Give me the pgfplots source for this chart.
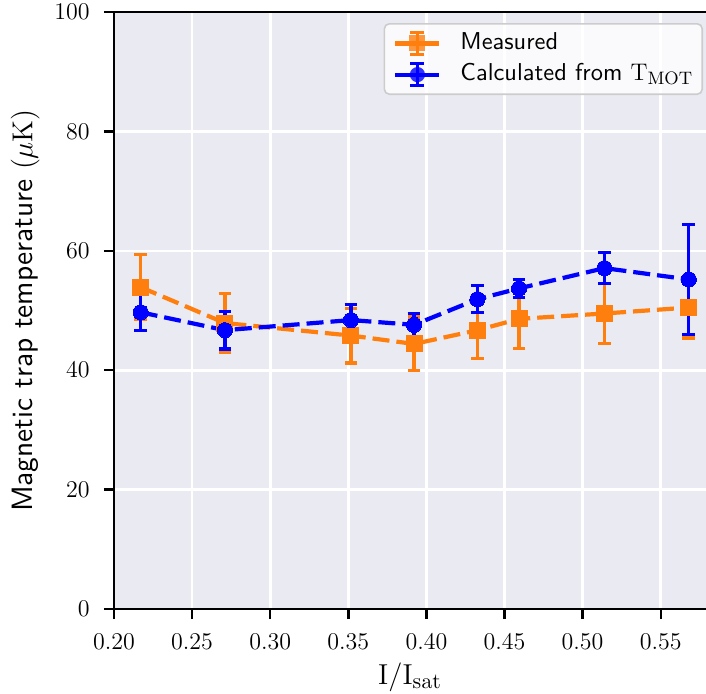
\documentclass[border=0pt]{standalone}
\usepackage{pgfplots}
\pgfplotsset{compat=1.18}
\usepackage{pgfplotstable}

% Latin Modern Sans at its 10pt design size for every size
\DeclareFontFamily{TU}{lmssten}{}
\DeclareFontShape{TU}{lmssten}{m}{n}{<-> \UnicodeFontFile{lmsans10-regular}{\UnicodeFontTeXLigatures}}{}
\newcommand\sansten{\fontfamily{lmssten}\fontseries{m}\fontshape{n}\selectfont}

\definecolor{measc}{RGB}{255,127,14}
\definecolor{calcc}{RGB}{0,0,255}
\definecolor{bgc}{RGB}{234,234,242}

% x = I/I_sat, y = temperature (uK), e = one-sigma uncertainty
\pgfplotstableread{
x y e
0.2171 53.9 5.45
0.2710 47.9 4.9
0.3517 45.8 4.6
0.3921 44.4 4.5
0.4327 46.7 4.7
0.4593 48.6 4.9
0.5140 49.5 5.0
0.5680 50.5 5.1
}\measured

\pgfplotstableread{
x y e
0.2171 49.7 3.1
0.2710 46.7 3.15
0.3517 48.4 2.6
0.3921 47.6 1.9
0.4327 51.9 2.25
0.4593 53.7 1.5
0.5140 57.1 2.55
0.5680 55.2 9.2
}\calculated

\pgfplotsset{
  ebar/.style={forget plot, draw=none, mark=none,
    error bars/.cd, y dir=both, y explicit, error mark=|,
    error bar style={draw=#1, line width=1.6pt, solid},
    error mark options={draw=#1, fill=#1, line width=1.6pt, mark size=3.2pt, solid}},
  dline/.style={forget plot, draw=#1, line width=2.1pt,
    dash pattern=on 8.5pt off 3.5pt},
}

\begin{document}
\begin{tikzpicture}
\begin{axis}[
  scale only axis, width=296pt, height=298.5pt,
  xmin=0.2, xmax=0.579, ymin=0, ymax=100,
  axis background/.style={fill=bgc},
  separate axis lines,
  axis x line=box, axis y line=left,
  x axis line style={-, black, line width=1.2pt},
  y axis line style={-, black, line width=1.2pt},
  xtick pos=left, ytick pos=left,
  tick align=outside, major tick length=5pt,
  every tick/.style={black, line width=1.2pt},
  grid=major, grid style={white, line width=1.3pt},
  xtick={0.2,0.25,0.3,0.35,0.4,0.45,0.5,0.55},
  ytick={0,20,40,60,80,100},
  ticklabel style={font=\fontsize{12.5}{15}\selectfont, inner sep=0pt},
  yticklabel style={anchor=east, xshift=-7pt},
  xticklabel style={anchor=north, yshift=-7.5pt,
    /pgf/number format/.cd, fixed, fixed zerofill, precision=2},
  every axis x label/.style={at={(axis description cs:0.5,0)}, yshift=-26.5pt,
    anchor=north, inner sep=0pt, font=\fontsize{15.3}{18}\selectfont},
  every axis y label/.style={at={(axis description cs:0,0.5)}, xshift=-37pt,
    rotate=90, anchor=south, inner sep=0pt, font=\fontsize{14.7}{18}\selectfont},
  xlabel={$\mathrm{I/I_{sat}}$},
  ylabel={{\sansten Magnetic trap temperature} $(\mu\mathrm{K})$},
  legend cell align=left,
  legend style={at={(1,1)}, anchor=north east, xshift=-1.5pt, yshift=-5.5pt,
    draw=black!20, line width=0.8pt, rounded corners=2.5pt,
    fill=white, fill opacity=0.8, text opacity=1,
    inner xsep=4.5pt, inner ysep=3.5pt, row sep=3pt,
    nodes={inner sep=0pt, text height=8.9pt, text depth=2.6pt},
    font=\sansten\fontsize{12.2}{14}\selectfont},
]
\addlegendimage{legend image code/.code={
  \draw[sharp corners, measc, line width=2.1pt, solid] (0pt,0pt) -- (22pt,0pt);
  \draw[sharp corners, measc, line width=1.6pt, solid] (11pt,-5.5pt) -- (11pt,5.5pt)
    (7.5pt,-5.5pt) -- (14.5pt,-5.5pt) (7.5pt,5.5pt) -- (14.5pt,5.5pt);
  \fill[sharp corners, measc, draw=none] (7pt,-4pt) rectangle (15pt,4pt);
  \path[draw=none, fill=none] (0pt,-6.25pt) rectangle (32.5pt,6.25pt);
}}
\addlegendentry{Measured}
\addlegendimage{legend image code/.code={
  \draw[sharp corners, calcc, line width=2.1pt, solid] (0pt,0pt) -- (22pt,0pt);
  \draw[sharp corners, calcc, line width=1.6pt, solid] (11pt,-5.5pt) -- (11pt,5.5pt)
    (7.5pt,-5.5pt) -- (14.5pt,-5.5pt) (7.5pt,5.5pt) -- (14.5pt,5.5pt);
  \fill[calcc, draw=none] (11pt,0pt) circle (3.8pt);
  \path[draw=none, fill=none] (0pt,-6.25pt) rectangle (32.5pt,6.25pt);
}}
\addlegendentry{Calculated from $\mathrm{T_{MOT}}$}

% error bars first, then the dashed lines with their markers on top
\addplot[ebar=measc] table[x=x, y=y, y error=e]{\measured};
\addplot[ebar=calcc] table[x=x, y=y, y error=e]{\calculated};
\addplot[dline=measc, mark=square*, mark size=4pt,
  mark options={solid, fill=measc, draw=measc, line width=0pt}]
  table[x=x, y=y]{\measured};
\addplot[dline=calcc, mark=*, mark size=3.8pt,
  mark options={solid, fill=calcc, draw=calcc, line width=0pt}]
  table[x=x, y=y]{\calculated};
\end{axis}
% page frame: 57pt left of the axis, 42pt below it, 6pt above it
\pgfresetboundingbox
\path[use as bounding box] ([xshift=-57pt, yshift=-42pt]current axis.south west)
  rectangle ([yshift=6pt]current axis.north east);
\end{tikzpicture}
\end{document}
